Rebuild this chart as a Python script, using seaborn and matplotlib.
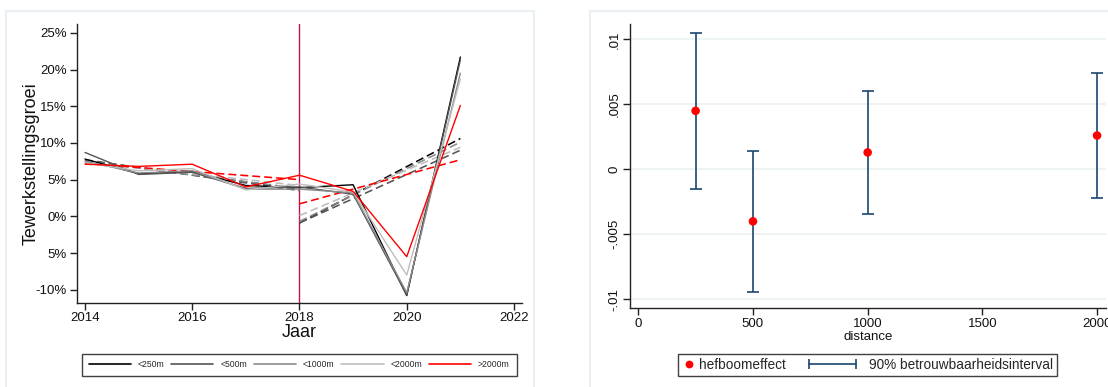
import numpy as np
import pandas as pd
import matplotlib
matplotlib.use("Agg")
import matplotlib.pyplot as plt
import seaborn as sns
from matplotlib.lines import Line2D
from matplotlib.legend_handler import HandlerLine2D, HandlerBase
from matplotlib.patches import Rectangle

# ---------------- data (left panel) ----------------
years = [2014, 2015, 2016, 2017, 2018, 2019, 2020, 2021]
groups = ["<250m", "<500m", "<1000m", "<2000m", ">2000m"]
growth_lt250 = [7.8, 5.8, 6.1, 4.2, 3.9, 4.3, -10.8, 21.7]
growth_lt500 = [8.7, 5.7, 6.0, 3.8, 4.0, 3.0, -10.7, 21.3]
growth_lt1000 = [7.5, 5.9, 6.2, 3.7, 3.7, 3.2, -10.4, 19.5]
growth_lt2000 = [7.3, 6.2, 6.5, 3.6, 4.4, 3.3, -8.0, 18.7]
growth_gt2000 = [7.1, 6.8, 7.1, 4.0, 5.6, 3.4, -5.5, 15.1]

pre_years = [2014, 2018]
pre_start = [7.6, 7.7, 7.5, 7.4, 7.2]
pre_end = [3.7, 3.5, 3.8, 4.2, 5.0]
post_years = [2018, 2021]
post_start = [-0.9, -0.9, -0.7, 0.1, 1.7]
post_end = [10.6, 9.0, 10.1, 9.4, 7.7]

ytick_vals = [-10, -5, 0, 5, 10, 15, 20, 25]
ytick_labels = ["-10%", "5%", "0%", "5%", "10%", "15%", "20%", "25%"]
xtick_vals = [2014, 2016, 2018, 2020, 2022]

# ---------------- data (right panel) ----------------
distance = [250, 500, 1000, 2000]
effect = [0.0045, -0.0040, 0.0013, 0.0026]
ci_lower = [-0.0015, -0.0094, -0.0034, -0.0022]
ci_upper = [0.0105, 0.0014, 0.0060, 0.0074]
r_yticks = [-0.01, -0.005, 0, 0.005, 0.01]
r_ytick_labels = ["-.01", "-.005", "0", ".005", ".01"]
r_xticks = [0, 500, 1000, 1500, 2000]

colors = ["#000000", "#555555", "#8a8a8a", "#bdbdbd", "#ff0000"]
navy = "#1a476f"
vline_color = "#c41446"

sns.set_theme(style="white")
plt.rcParams["font.family"] = ["Liberation Sans", "DejaVu Sans"]

W, H = 1108, 387
fig = plt.figure(figsize=(W / 100, H / 100), dpi=100)
fig.patch.set_facecolor("white")

def fx(px):
    return px / W

def fy(py):
    return 1 - py / H

# panel frames
fig.patches.append(Rectangle((fx(6), -0.1), fx(528), fy(11) + 0.1, transform=fig.transFigure,
                             fill=False, edgecolor="#e9f0f3", lw=1.5))
fig.patches.append(Rectangle((fx(590), -0.1), fx(600), fy(11) + 0.1, transform=fig.transFigure,
                             fill=False, edgecolor="#e9f0f3", lw=1.5))

# ---------------- left panel ----------------
axL = fig.add_axes([fx(76.7), fy(302.7), fx(521.7 - 76.7), (302.7 - 24) / H])
series = [growth_lt250, growth_lt500, growth_lt1000, growth_lt2000, growth_gt2000]
df = pd.DataFrame({
    "Jaar": np.tile(years, len(groups)),
    "groei": np.concatenate(series),
    "groep": np.repeat(groups, len(years)),
})
palette = dict(zip(groups, colors))

axL.axvline(2018, color=vline_color, lw=1.0, zorder=1)

for i, g in enumerate(groups):
    dpre = pd.DataFrame({"Jaar": pre_years, "groei": [pre_start[i], pre_end[i]]})
    dpost = pd.DataFrame({"Jaar": post_years, "groei": [post_start[i], post_end[i]]})
    for d in (dpre, dpost):
        sns.lineplot(data=d, x="Jaar", y="groei", ax=axL, color=colors[i], lw=1.15,
                     linestyle=(0, (5, 2.5)), legend=False, zorder=2 + (i == 4))

sns.lineplot(data=df, x="Jaar", y="groei", hue="groep", palette=palette, hue_order=groups,
             ax=axL, lw=1.0, legend=False, zorder=4)

axL.set_xlim(2013.845, 2022.144)
axL.set_ylim(-11.77, 26.2)
axL.set_xticks(xtick_vals)
axL.set_yticks(ytick_vals)
axL.set_yticklabels(ytick_labels)
axL.set_xlabel("Jaar", fontsize=13, labelpad=0, color="#111111")
axL.set_ylabel("Tewerkstellingsgroei", fontsize=13, labelpad=-3, color="#111111")
axL.tick_params(axis="both", which="major", labelsize=9.5, length=5, width=1, color="#222222",
                direction="out", bottom=True, left=True, pad=2, labelcolor="#111111")
for s in ["top", "right"]:
    axL.spines[s].set_visible(False)
for s in ["left", "bottom"]:
    axL.spines[s].set_color("#222222")
    axL.spines[s].set_linewidth(1.0)

handlesL = [Line2D([0], [0], color=c, lw=1.2) for c in colors]
legL = fig.legend(handlesL, groups, loc="lower left", ncol=5,
                  bbox_to_anchor=(fx(81.7), fy(376.3), fx(516.7 - 81.7), 24 / H),
                  mode="expand", fontsize=6.2, frameon=True, fancybox=False,
                  handlelength=4.9, handletextpad=0.8, columnspacing=1.2, borderpad=0.8,
                  borderaxespad=0)
legL.get_frame().set_edgecolor("#111111")
legL.get_frame().set_linewidth(1.0)

# ---------------- right panel ----------------
axR = fig.add_axes([fx(630), fy(308.3), fx(1106 - 630), (308.3 - 24) / H])
dR = pd.DataFrame({"distance": distance, "effect": effect,
                   "lo": ci_lower, "hi": ci_upper})
for y in r_yticks:
    axR.axhline(y, color="#eaf1f3", lw=1.2, zorder=0)
axR.errorbar(dR["distance"], dR["effect"],
             yerr=[dR["effect"] - dR["lo"], dR["hi"] - dR["effect"]],
             fmt="none", ecolor=navy, elinewidth=1.2, capsize=4.5, capthick=1.2, zorder=2)
sns.scatterplot(data=dR, x="distance", y="effect", ax=axR, color="#ff0000", s=38,
                edgecolor="none", zorder=3, legend=False)

axR.set_xlim(-36, 2039)
axR.set_ylim(-0.01069, 0.01118)
axR.set_xticks(r_xticks)
axR.set_yticks(r_yticks)
axR.set_yticklabels(r_ytick_labels, rotation=90, va="center")
axR.set_xlabel("distance", fontsize=9.5, labelpad=1, color="#111111")
axR.set_ylabel("")
axR.tick_params(axis="both", which="major", labelsize=9.5, length=5, width=1, color="#222222",
                direction="out", bottom=True, left=True, pad=2, labelcolor="#111111")
for s in ["top", "right"]:
    axR.spines[s].set_visible(False)
for s in ["left", "bottom"]:
    axR.spines[s].set_color("#222222")
    axR.spines[s].set_linewidth(1.0)


class HandlerCI(HandlerBase):
    """Horizontal line with caps, extending to the left of its handle box."""
    def __init__(self, ext_pt, end_pt, **kw):
        super().__init__(**kw)
        self.ext_pt = ext_pt
        self.end_pt = end_pt

    def create_artists(self, legend, orig_handle, xdescent, ydescent, width, height,
                       fontsize, trans):
        y = height / 2 - ydescent
        x0 = -xdescent - self.ext_pt
        x1 = -xdescent + self.end_pt
        ln = Line2D([x0, x1], [y, y], color=navy, lw=1.2)
        cp = Line2D([x0, x1], [y, y], color=navy, ls="none", marker="|",
                    markersize=6.5, markeredgewidth=1.2)
        ln.set_transform(trans)
        cp.set_transform(trans)
        return [ln, cp]


h_pt = Line2D([0], [0], marker="o", color="none", markerfacecolor="#ff0000",
              markeredgecolor="none", markersize=5.6)
h_ci = Line2D([0], [0], color=navy, lw=1.2)
legR = fig.legend([h_pt, h_ci], ["hefboomeffect", "90% betrouwbaarheidsinterval"],
                  loc="center", ncol=2, bbox_to_anchor=(fx(867.5), fy(364.7)),
                  fontsize=9.8, frameon=True, fancybox=False, handlelength=0.9,
                  handletextpad=0.35, columnspacing=4.8, borderpad=0.3,
                  handler_map={h_pt: HandlerLine2D(numpoints=1),
                               h_ci: HandlerCI(ext_pt=30.5, end_pt=3.5)})
legR.get_frame().set_edgecolor("#111111")
legR.get_frame().set_linewidth(1.0)

fig.savefig("out.png", dpi=100, facecolor="white")
